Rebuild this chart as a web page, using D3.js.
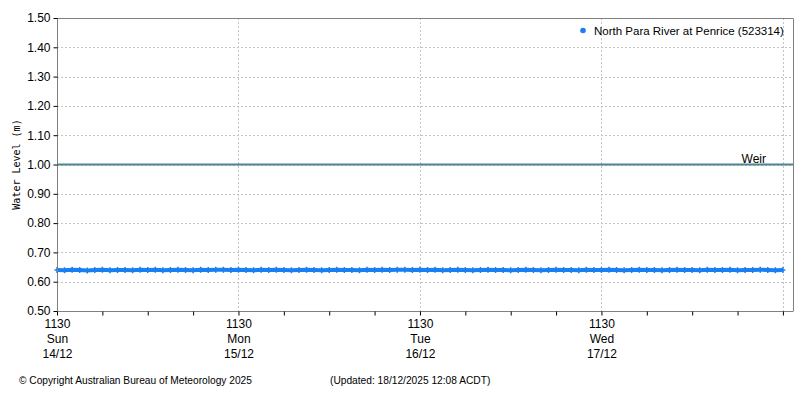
<!DOCTYPE html>
<html><head><meta charset="utf-8">
<script src="https://cdn.jsdelivr.net/npm/d3@7"></script>
<style>
body{margin:0;background:#fff;}
svg{display:block;font-family:"Liberation Sans",sans-serif;}
</style></head><body>
<svg id="c" width="800" height="400"></svg>
<script>
const seriesName = "North Para River at Penrice (523314)";
const startTime = "2025-12-14T11:30";
const domainEnd = "2025-12-18T12:50";
// hourly water level readings (m) from 14/12 11:30
const levels = [
0.640,0.639,0.641,0.640,0.638,0.640,0.641,0.639,0.640,0.640,0.639,0.641,
0.640,0.641,0.639,0.640,0.641,0.640,0.639,0.641,0.640,0.641,0.641,0.640,
0.641,0.640,0.639,0.641,0.640,0.641,0.640,0.639,0.640,0.641,0.640,0.639,
0.640,0.641,0.640,0.640,0.639,0.641,0.640,0.641,0.640,0.641,0.641,0.640,
0.641,0.640,0.641,0.639,0.640,0.641,0.640,0.639,0.640,0.641,0.640,0.640,
0.639,0.640,0.641,0.640,0.639,0.640,0.641,0.640,0.640,0.639,0.641,0.640,
0.640,0.641,0.640,0.639,0.640,0.641,0.640,0.640,0.639,0.640,0.641,0.640,
0.640,0.639,0.641,0.640,0.640,0.641,0.639,0.640,0.640,0.641,0.640,0.639,0.640
];
const weirLevel = 1.00;
const weirLabel = "Weir";
const yTicks = [0.5,0.6,0.7,0.8,0.9,1.0,1.1,1.2,1.3,1.4,1.5];
const xDays = [["1130","Sun","14/12"],["1130","Mon","15/12"],["1130","Tue","16/12"],["1130","Wed","17/12"],["","",""]];
const yTitle = "Water Level (m)";
const copyright = "© Copyright Australian Bureau of Meteorology 2025";
const updated = "(Updated: 18/12/2025 12:08 ACDT)";

const parse = d3.timeParse("%Y-%m-%dT%H:%M");
const t0 = parse(startTime);
const data = levels.map((v,i)=>({t:d3.timeHour.offset(t0,i), v}));
const majorTimes = xDays.map((d,i)=>d3.timeDay.offset(t0,i));
const minorTimes = d3.range(0,17).map(i=>d3.timeHour.offset(t0,i*6)).filter((d,i)=>i%4!==0);

const L=57,R=793,T=18,B=311;
const x = d3.scaleTime().domain([t0, parse(domainEnd)]).range([L,R]);
const y = d3.scaleLinear().domain([0.5,1.5]).range([B,T]);
const svg = d3.select("#c");
const grid="#c4c4c4", axisC="#808080";

// gridlines
svg.append("g").selectAll("line").data(yTicks.slice(1)).join("line")
  .attr("x1",L).attr("x2",R).attr("y1",d=>Math.round(y(d))+0.5).attr("y2",d=>Math.round(y(d))+0.5)
  .attr("stroke",grid).attr("stroke-dasharray","2,2");
svg.append("g").selectAll("line").data(majorTimes.slice(1)).join("line")
  .attr("x1",d=>Math.round(x(d))+0.5).attr("x2",d=>Math.round(x(d))+0.5).attr("y1",T).attr("y2",B)
  .attr("stroke",grid).attr("stroke-dasharray","2,2");

// frame top/right
svg.append("path").attr("d",`M${L},${T+0.5}H${R+0.5}V${B}`).attr("fill","none").attr("stroke",axisC);

// weir
svg.append("line").attr("x1",L).attr("x2",R).attr("y1",y(weirLevel)).attr("y2",y(weirLevel))
  .attr("stroke","#4d8590").attr("stroke-width",2);
svg.append("text").attr("x",766).attr("y",y(weirLevel)-2).attr("text-anchor","end")
  .attr("font-size",12).attr("fill","#000").text(weirLabel);

// data
const col="#1a7ff0";
svg.append("path").datum(data).attr("fill","none").attr("stroke",col).attr("stroke-width",4)
  .attr("d",d3.line().x(d=>x(d.t)).y(d=>y(d.v)));
svg.append("g").selectAll("path").data(data).join("path")
  .attr("d",d=>`M${x(d.t)-2.5},${y(d.v)}h5M${x(d.t)},${y(d.v)-3}v6`)
  .attr("stroke",col).attr("stroke-width",1.5);

// y axis
const ya = svg.append("g").attr("transform",`translate(${L+0.5},0)`)
  .call(d3.axisLeft(y).tickValues(yTicks).tickFormat(d3.format(".2f")).tickSize(4).tickPadding(3));
ya.select(".domain").attr("stroke",axisC).attr("d",`M0,${T}V${B+0.5}`);
ya.selectAll(".tick line").attr("stroke","#000");
ya.selectAll("text").attr("font-size",12).attr("font-family","Liberation Sans").attr("fill","#000");

// x axis
const xa = svg.append("g").attr("transform",`translate(0,${B+0.5})`)
  .call(d3.axisBottom(x).tickValues(majorTimes.concat(minorTimes)).tickSize(4).tickFormat(""));
xa.select(".domain").attr("stroke",axisC).attr("d",`M${L},0H${R+0.5}`);
xa.selectAll(".tick line").attr("stroke","#000");
const lab = svg.append("g");
xDays.forEach((d,i)=>{
  d.forEach((s,j)=>{
    lab.append("text").attr("x",x(majorTimes[i])+0.5).attr("y",328+j*15).attr("text-anchor","middle")
      .attr("font-size",12).attr("fill","#000").text(s);
  });
});

// y title
svg.append("text").attr("transform",`translate(20,${(T+B)/2}) rotate(-90)`).attr("text-anchor","middle")
  .attr("font-family","DejaVu Sans Mono").attr("font-size",10).attr("fill","#000").text(yTitle);

// legend
svg.append("circle").attr("cx",583).attr("cy",30.5).attr("r",2.8).attr("fill",col);
svg.append("text").attr("x",594).attr("y",35).attr("font-size",11.5).attr("fill","#000").text(seriesName);

// footer
svg.append("text").attr("x",19).attr("y",384).attr("font-size",10.2).attr("fill","#000").text(copyright);
svg.append("text").attr("x",330).attr("y",384).attr("font-size",10.2).attr("fill","#000").text(updated);
</script></body></html>
